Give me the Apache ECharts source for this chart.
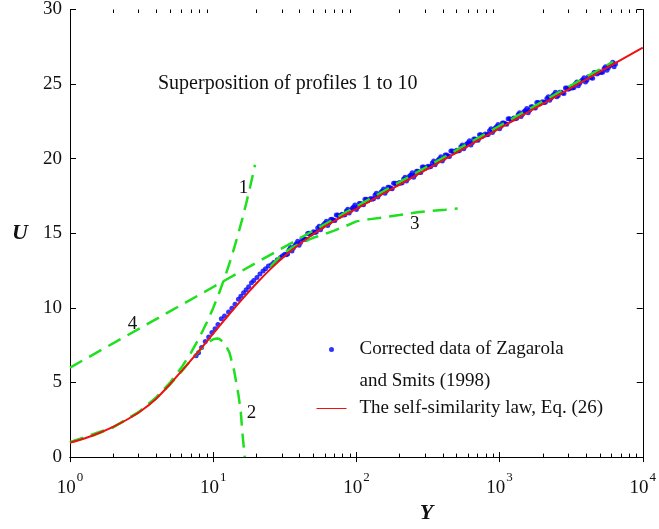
<!DOCTYPE html>
<html>
<head>
<meta charset="utf-8">
<script src="https://cdn.jsdelivr.net/npm/echarts@6/dist/echarts.min.js"></script>
<style>html,body{margin:0;padding:0;background:#fff}#c{width:659px;height:529px}</style>
</head>
<body>
<div id="c"></div>
<script>
// ---- data ----
const xTicks = [1, 10, 100, 1000, 10000];
const yTicks = [0, 5, 10, 15, 20, 25, 30];
const xMinorTicks = [2,3,4,5,6,7,8,9,20,30,40,50,60,70,80,90,200,300,400,500,600,700,800,900,2000,3000,4000,5000,6000,7000,8000,9000];

// Corrected data of Zagarola and Smits (1998): [Y, U]
const zagarolaSmits = [
 [7.6,6.8],[7.9,7.0],[8.3,7.35],[8.8,7.75],[9.3,8.05],[9.8,8.35],[10.3,8.6],[10.8,8.88],[11.4,9.28],[12.0,9.45],
 [12.8,9.72],[13.5,9.97],[14.2,10.25],[15.0,10.58],[15.6,10.78],[16.3,11.02],[17.0,11.22],[17.7,11.42],[18.5,11.68],[19.2,11.83],
 [20.2,12.03],[21.2,12.28],[22.3,12.48],[23.2,12.63],[24.3,12.8],[25.5,12.9],[26.5,13.05],[28.0,13.22],[29.5,13.38],[30.5,13.5],
 [31.6,13.59],[33.1,13.62],[34.7,14.04],[36.3,14.02],[38.0,14.30],[39.8,14.20],[41.7,14.63],[43.7,14.60],[45.7,14.99],[47.9,14.93],
 [50.1,15.10],[52.5,15.09],[55.0,15.48],[57.5,15.42],[60.3,15.67],[63.1,15.53],[66.1,15.93],[69.2,15.87],[72.4,16.22],[75.9,16.13],
 [79.4,16.27],[83.2,16.24],[87.1,16.61],[91.2,16.53],[95.5,16.76],[100,16.60],[104.7,17.00],[109.6,16.94],[114.8,17.28],[120.2,17.19],
 [125.9,17.33],[131.8,17.31],[138.0,17.68],[144.5,17.60],[151.4,17.83],[158.5,17.68],[166.0,18.08],[173.8,18.02],[182.0,18.36],[190.5,18.27],
 [199.5,18.41],[208.9,18.39],[218.8,18.76],[229.1,18.68],[239.9,18.91],[251.2,18.76],[263.0,19.16],[275.4,19.10],[288.4,19.44],[302.0,19.35],
 [316.2,19.49],[331.1,19.47],[346.7,19.84],[363.1,19.76],[380.2,19.99],[398.1,19.84],[416.9,20.24],[436.5,20.18],[457.1,20.52],[478.6,20.43],
 [501.2,20.57],[524.8,20.55],[549.5,20.92],[575.4,20.84],[602.6,21.07],[631.0,20.92],[660.7,21.32],[691.8,21.26],[724.4,21.60],[758.6,21.51],
 [794.3,21.65],[831.8,21.63],[871.0,22.00],[912.0,21.90],[955.0,22.15],[1000,22.00],[1047,22.40],[1096,22.34],[1148,22.68],[1202,22.59],
 [1259,22.73],[1318,22.71],[1380,23.08],[1445,22.98],[1514,23.23],[1585,23.08],[1660,23.48],[1738,23.42],[1820,23.76],[1905,23.67],
 [1995,23.81],[2089,23.79],[2188,24.16],[2291,24.06],[2399,24.31],[2512,24.16],[2630,24.46],[2754,24.40],[2884,24.74],[3020,24.65],
 [3162,24.79],[3311,24.77],[3467,25.14],[3631,25.06],[3802,25.29],[3981,25.14],[4169,25.49],[4365,25.43],[4571,25.77],[4786,25.68],
 [5012,25.82],[5248,25.80],[5495,26.17],[5754,26.09],[6026,26.32],[6310,26.17],
 [32.4,13.57],[33.9,13.90],[35.5,13.82],[37.2,14.18],[38.9,14.46],[40.7,14.39],[42.7,14.65],[44.7,14.60],[46.8,15.00],[49.0,15.00],
 [51.3,15.06],[53.7,15.36],[56.2,15.24],[58.9,15.57],[61.7,15.81],[64.6,15.71],[67.6,15.94],[70.8,15.85],[74.1,16.22],[77.6,16.19],
 [81.3,16.22],[85.1,16.50],[89.1,16.36],[93.3,16.67],[97.7,16.89],[102.3,16.77],[107.2,17.00],[112.2,16.91],[117.5,17.28],[123.0,17.25],
 [128.8,17.28],[134.9,17.56],[141.3,17.43],[147.9,17.74],[154.9,17.97],[162.2,17.85],[169.8,18.08],[177.8,17.99],[186.2,18.36],[195.0,18.33],
 [204.2,18.36],[213.8,18.64],[223.9,18.51],[234.4,18.82],[245.5,19.05],[257.0,18.93],[269.2,19.16],[281.8,19.07],[295.1,19.44],[309.0,19.41],
 [323.6,19.44],[338.8,19.72],[354.8,19.59],[371.5,19.90],[389.0,20.13],[407.4,20.01],[426.6,20.24],[446.7,20.15],[467.7,20.52],[489.8,20.49],
 [512.9,20.52],[537.0,20.80],[562.3,20.67],[588.8,20.98],[616.6,21.21],[645.7,21.09],[676.1,21.32],[707.9,21.23],[741.3,21.60],[776.2,21.57],
 [812.8,21.60],[851.1,21.88],[891.3,21.75],[933.3,22.06],[977.2,22.29],[1023,22.17],[1072,22.40],[1122,22.31],[1175,22.68],[1230,22.65],
 [1288,22.68],[1349,22.96],[1413,22.83],[1479,23.14],[1549,23.37],[1622,23.25],[1698,23.48],[1778,23.39],[1862,23.76],[1950,23.73],
 [2042,23.76],[2138,24.04],[2239,23.91],[2344,24.22],[2455,24.45],[2570,24.23],[2692,24.46],[2818,24.37],[2951,24.74],[3090,24.71],
 [3236,24.74],[3388,25.02],[3548,24.89],[3715,25.20],[3890,25.43],[4074,25.26],[4266,25.49],[4467,25.40],[4677,25.77],[4898,25.74],
 [5129,25.77],[5370,26.05],[5623,25.92],[5888,26.23],[6166,26.46],[6457,26.34]
];

// The self-similarity law, Eq. (26)
const selfSimilarity = [
 [1,0.97],[1.26,1.25],[1.58,1.6],[2,2.03],[2.51,2.52],[3.16,3.12],[3.98,3.9],[5.01,4.9],[6.31,6.0],[7.94,7.1],
 [10,8.28],[12.6,9.44],[15.85,10.56],[19.95,11.62],[25.1,12.6],[31.6,13.48],[39.8,14.25],[50.1,14.95],[63.1,15.57],
 [79.4,16.12],[100,16.64],[200,18.27],[500,20.41],[1000,22.04],[2000,23.67],[5000,25.82],[10000,27.44]
];

// dashed asymptotic curves 1-4
const curve1 = [[1,1],[1.5,1.5],[2,2],[3,3],[4,4],[5,5],[6,6],[7,7],[8,8],[9,9],[10,10],[11,11],[12,12],[13,13],[14,14],[15,15],[16,16],[17,17],[18,18],[19,19],[19.6,19.6]];
const curve2 = [[1,1],[2,2],[3,2.98],[4,3.95],[5,4.87],[6,5.73],[7,6.5],[8,7.14],[9,7.62],[10,7.9],[10.6,7.95],[11,7.93],[12,7.65],[13,7.0],[14,5.8],[15,4.2],[15.6,3.0],[16,1.6],[16.3,0.8],[16.6,0]];
const curve3 = [[25,12.75],[30,13.55],[35,14.0],[40,14.3],[50,14.7],[60,14.95],[70,15.18],[85,15.5],[100,15.8],[125,15.95],[150,16.05],[200,16.23],[260,16.4],[330,16.5],[420,16.58],[510,16.66]];
const curve4 = [[1,6.0],[10,11.4],[100,16.8],[1000,22.2],[6200,26.5]];

const curveLabels = [
 {name:'1', coord:[16.3,18.06]},
 {name:'2', coord:[18.5,2.97]},
 {name:'3', coord:[256,15.62]},
 {name:'4', coord:[2.73,8.9]}
];

const NAME_DATA = 'Corrected data of Zagarola and Smits (1998)';
const NAME_LAW = 'The self-similarity law, Eq. (26)';

const SERIF = '"Liberation Serif", "DejaVu Serif", serif';
const GREEN = '#1fe01f';
const BLUE = '#0000ff';
const RED = '#f01010';
const chart = echarts.init(document.getElementById('c'));

function dashed(data, label) {
  return {
    type: 'line', data: data, symbol: 'none', showSymbol: false, silent: true, z: 3,
    lineStyle: {color: GREEN, width: 2.5, type: [14, 8]},
    markPoint: label ? {
      symbol: 'circle', symbolSize: 0, silent: true,
      label: {show: true, position: 'inside', formatter: label.name, color: '#111', fontFamily: SERIF, fontSize: 19},
      data: [{coord: label.coord}]
    } : undefined
  };
}

const legendText = {
  fontFamily: SERIF, fontSize: 19, color: '#111',
  rich: {
    e: {fontFamily: SERIF, fontSize: 19, lineHeight: 32},
    a: {fontFamily: SERIF, fontSize: 19, lineHeight: 32, padding: [0, 0, 0, 8]},
    t: {fontFamily: SERIF, fontSize: 19, lineHeight: 20, padding: [0, 0, 0, 8]}
  }
};

const option = {
  animation: false,
  backgroundColor: '#fff',
  title: {
    text: 'Superposition of profiles 1 to 10',
    left: 158, top: 74, padding: 0,
    textStyle: {fontFamily: SERIF, fontSize: 20, fontWeight: 'normal', color: '#111'}
  },
  grid: {left: 70, right: 11, top: 7, bottom: 67},
  legend: [
    {
      left: 329, top: 308, orient: 'vertical', padding: 0,
      itemWidth: 30, itemHeight: 5, selectedMode: false,
      data: [NAME_DATA],
      formatter: function () { return '{e| }\n{a|Corrected data of Zagarola}\n{a|and Smits (1998)}'; },
      textStyle: legendText
    },
    {
      left: 316, top: 399, orient: 'vertical', padding: 0,
      itemWidth: 30, itemHeight: 1, selectedMode: false,
      data: [NAME_LAW],
      lineStyle: {width: 1},
      formatter: function (name) { return '{t|' + name + '}'; },
      textStyle: legendText
    }
  ],
  xAxis: [
    {
      type: 'log', logBase: 10, min: 1, max: 10000,
      name: 'Y', nameLocation: 'middle', nameGap: 42,
      nameTextStyle: {fontFamily: SERIF, fontSize: 22, fontStyle: 'italic', fontWeight: 'bold', color: '#111', padding: [0, 0, 0, 140]},
      axisLine: {show: true, lineStyle: {color: '#000', width: 1}},
      axisTick: {show: true, inside: true, length: 5, lineStyle: {color: '#000'}},
      splitLine: {show: false}, minorTick: {show: false},
      axisLabel: {
        margin: 14, color: '#111', showMinLabel: true, showMaxLabel: true,
        formatter: function (v) { return '{b|10}{s|' + Math.round(Math.log10(v)) + '}'; },
        rich: {
          b: {fontFamily: SERIF, fontSize: 19, verticalAlign: 'bottom', color: '#111'},
          s: {fontFamily: SERIF, fontSize: 13, verticalAlign: 'top', padding: [0, 0, 13, 1], color: '#111'}
        }
      }
    },
    {
      type: 'log', logBase: 10, min: 1, max: 10000, position: 'top',
      axisLine: {show: true, lineStyle: {color: '#000', width: 1}},
      axisTick: {show: true, inside: true, length: 5, lineStyle: {color: '#000'}},
      axisLabel: {show: false}, splitLine: {show: false}
    }
  ],
  yAxis: [
    {
      type: 'value', min: 0, max: 30, interval: 5,
      name: 'U', nameLocation: 'middle', nameGap: 42, nameRotate: 0,
      nameTextStyle: {fontFamily: SERIF, fontSize: 22, fontStyle: 'italic', fontWeight: 'bold', color: '#111', padding: [10, 0, 0, 0]},
      axisLine: {show: true, lineStyle: {color: '#000', width: 1}},
      axisTick: {show: true, inside: true, length: 6, lineStyle: {color: '#000'}},
      splitLine: {show: false},
      axisLabel: {margin: 8, color: '#111', fontFamily: SERIF, fontSize: 19}
    },
    {
      type: 'value', min: 0, max: 30, interval: 5, position: 'right',
      axisLine: {show: true, lineStyle: {color: '#000', width: 1}},
      axisTick: {show: true, inside: true, length: 6, lineStyle: {color: '#000'}},
      axisLabel: {show: false}, splitLine: {show: false}
    }
  ],
  series: [
    {
      type: 'custom', silent: true, z: 1,
      data: xMinorTicks.map(function (v) { return [v, 0]; }),
      renderItem: function (params, api) {
        const x = api.value(0);
        const pb = api.coord([x, 0]);
        const pt = api.coord([x, 30]);
        const px = Math.round(pb[0]) + 0.5;
        return {
          type: 'group',
          children: [
            {type: 'line', shape: {x1: px, y1: pb[1], x2: px, y2: pb[1] - 3.5}, style: {stroke: '#000', lineWidth: 1}},
            {type: 'line', shape: {x1: px, y1: pt[1], x2: px, y2: pt[1] + 3.5}, style: {stroke: '#000', lineWidth: 1}}
          ]
        };
      }
    },
    {
      name: NAME_DATA,
      type: 'scatter', data: zagarolaSmits, symbol: 'circle', symbolSize: 5, z: 2,
      itemStyle: {color: BLUE}
    },
    dashed(curve1, curveLabels[0]),
    dashed(curve2, curveLabels[1]),
    dashed(curve3, curveLabels[2]),
    dashed(curve4, curveLabels[3]),
    {
      name: NAME_LAW,
      type: 'line', data: selfSimilarity, symbol: 'none', showSymbol: false, smooth: 0.3, z: 4,
      lineStyle: {color: RED, width: 2},
      itemStyle: {color: RED}
    }
  ]
};
chart.setOption(option);
</script>
</body>
</html>
